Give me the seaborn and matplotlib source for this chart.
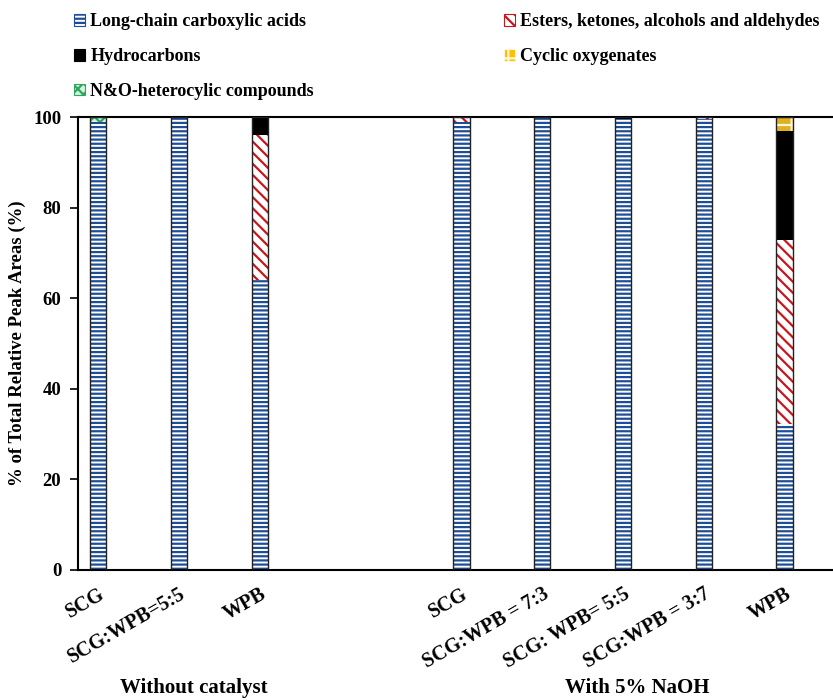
import numpy as np
import pandas as pd
import matplotlib
matplotlib.use("Agg")
import matplotlib.pyplot as plt
import matplotlib.patches as mpatches
import seaborn as sns

# Sample labels and product distribution (% of total relative peak area)
samples = ["SCG", "SCG:WPB=5:5", "WPB",
           "SCG", "SCG:WPB = 7:3", "SCG: WPB= 5:5", "SCG:WPB = 3:7", "WPB"]
groups = ["Without catalyst"] * 3 + ["With 5% NaOH"] * 5

long_chain = [99.0, 100.0, 64.0, 98.8, 100.0, 99.6, 99.5, 32.2]
esters = [0.0, 0.0, 32.0, 1.2, 0.0, 0.0, 0.5, 40.6]
hydrocarbons = [0.0, 0.0, 4.0, 0.0, 0.0, 0.4, 0.0, 24.1]
cyclic = [0.0, 0.0, 0.0, 0.0, 0.0, 0.0, 0.0, 3.1]
heterocyclic = [1.0, 0.0, 0.0, 0.0, 0.0, 0.0, 0.0, 0.0]

series_names = ["Long-chain carboxylic acids", "Esters, ketones, alcohols and aldehydes",
                "Hydrocarbons", "Cyclic oxygenates", "N&O-heterocylic compounds"]
series_values = [long_chain, esters, hydrocarbons, cyclic, heterocyclic]

yticks = [0, 20, 40, 60, 80, 100]

# fill style for each product class: (face, hatch colour, hatch)
styles = {
    "Long-chain carboxylic acids": ("white", "#1F4E96", "----"),
    "Esters, ketones, alcohols and aldehydes": ("white", "#C8161D", "\\\\\\"),
    "Hydrocarbons": ("black", "black", None),
    "Cyclic oxygenates": ("#FFC000", "#FFF6DA", "+"),
    "N&O-heterocylic compounds": ("#D8F2DC", "#2EA860", "xxx"),
}

sns.set_theme(style="ticks")
plt.rcParams["font.family"] = ["Liberation Serif", "DejaVu Serif"]
plt.rcParams["font.weight"] = "bold"
plt.rcParams["hatch.linewidth"] = 1.6
for key in ["text.color", "axes.labelcolor", "xtick.color", "ytick.color", "axes.edgecolor"]:
    plt.rcParams[key] = "black"

fig = plt.figure(figsize=(8.33, 7.0), dpi=100)
ax = fig.add_axes([78 / 833, 1 - 570 / 700, 1 - 78 / 833, (570 - 117) / 700])

# x positions: second group separated by a wider gap
gap = 1.5
xpos = [i if g == groups[0] else i + gap for i, g in enumerate(groups)]

df = pd.DataFrame({"x": xpos})
cum = np.zeros(len(samples))
tops = []
for vals in series_values:
    cum = cum + np.array(vals)
    tops.append(cum.copy())

# stacked bars: draw cumulative totals from the top layer down
for name, top in reversed(list(zip(series_names, tops))):
    face, hcol, hatch = styles[name]
    d = df.assign(v=top)
    sns.barplot(data=d, x="x", y="v", native_scale=True, width=0.2,
                errorbar=None, color=face, edgecolor=hcol, linewidth=0,
                hatch=hatch, ax=ax, zorder=2)

# bar outlines
d = df.assign(v=tops[-1])
sns.barplot(data=d, x="x", y="v", native_scale=True, width=0.2, errorbar=None,
            fill=False, edgecolor="#222222", linewidth=1.0, ax=ax, zorder=3)

ax.set_xlim(-0.25, 9.1)
ax.set_ylim(0, 100)
ax.set_yticks(yticks)
ax.set_yticklabels([str(t) for t in yticks], fontsize=13.5, fontweight="bold")
ax.tick_params(axis="y", direction="out", length=6, width=1.2, color="black", pad=6)
ax.tick_params(axis="x", length=0, pad=10)
ax.set_xticks(xpos)
ax.set_xticklabels(samples, rotation=30, ha="right", va="top",
                   rotation_mode="anchor", fontsize=14.5, fontweight="bold")
ax.set_xlabel("")
ax.set_ylabel("% of Total Relative Peak Areas (%)", fontsize=13.5,
              fontweight="bold", labelpad=5)
for s in ["left", "bottom", "top"]:
    ax.spines[s].set_color("black")
    ax.spines[s].set_linewidth(1.5)
ax.spines["right"].set_visible(False)
ax.grid(False)

# group captions beneath the sample labels
for g in dict.fromkeys(groups):
    xs = [x for x, gg in zip(xpos, groups) if gg == g]
    ax.annotate(g, xy=(np.mean(xs) + 0.18, 0.017), xycoords=("data", "figure fraction"),
                ha="center", va="center", fontsize=15, fontweight="bold")

handles = {}
for name in series_names:
    face, hcol, hatch = styles[name]
    handles[name] = mpatches.Patch(facecolor=face, edgecolor=hcol, hatch=hatch,
                                   linewidth=0.8, label=name)

# two legend columns placed side by side above the axes
columns = [(series_names[0::2], 58 / 833), (series_names[1::2], 488 / 833)]
for names, x0 in columns:
    fig.legend([handles[n] for n in names], names,
               loc="upper left", bbox_to_anchor=(x0, 1.004),
               frameon=False, prop={"weight": "bold", "size": 13},
               handlelength=0.6, handleheight=0.6, handletextpad=0.3,
               labelspacing=0.98)

fig.savefig("out.png", dpi=100)
